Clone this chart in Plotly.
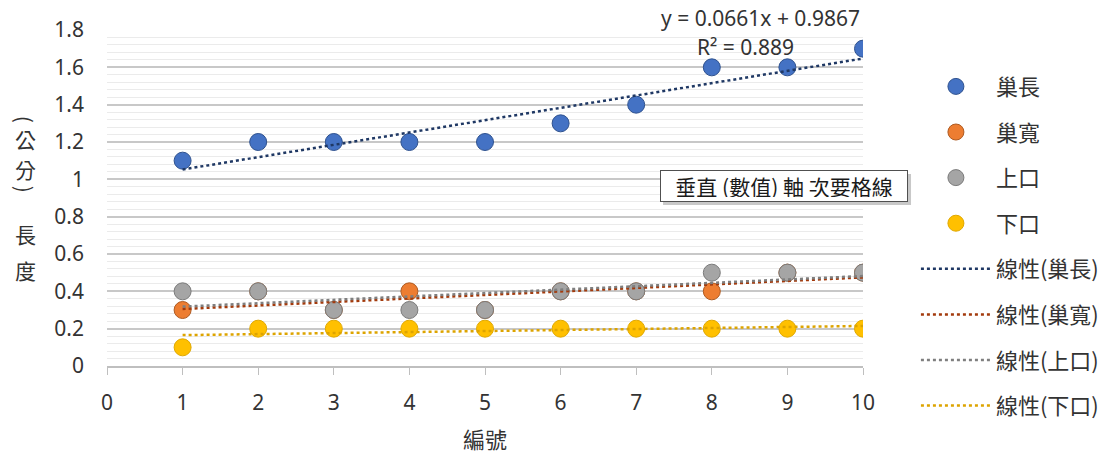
import numpy as np
import plotly.graph_objects as go

# 編號
ids = list(range(1, 11))

# 各項量測 (公分)
nest_length = [1.1, 1.2, 1.2, 1.2, 1.2, 1.3, 1.4, 1.6, 1.6, 1.7]
nest_width = [0.3, 0.4, 0.3, 0.4, 0.3, 0.4, 0.4, 0.4, 0.5, 0.5]
upper_mouth = [0.4, 0.4, 0.3, 0.3, 0.3, 0.4, 0.4, 0.5, 0.5, 0.5]
lower_mouth = [0.1, 0.2, 0.2, 0.2, 0.2, 0.2, 0.2, 0.2, 0.2, 0.2]

series = [
    ("巢長", nest_length, "#4472C4", "#2F528F", "#1F3864"),
    ("巢寬", nest_width, "#ED7D31", "#AE5A21", "#A33A0C"),
    ("上口", upper_mouth, "#A5A5A5", "#7B7B7B", "#7F7F7F"),
    ("下口", lower_mouth, "#FFC000", "#E0A800", "#DDA400"),
]

FONT = "Noto Sans, Noto Sans CJK TC, sans-serif"
CJK = "Noto Sans CJK TC, sans-serif"
TXT = "#333333"

fig = go.Figure()
x = np.array(ids, dtype=float)

fits = []
for name, vals, fill, edge, trend in series:
    fig.add_trace(go.Scatter(
        x=ids, y=vals, mode="markers", name=name, legendgroup=name,
        marker=dict(size=17, color=fill, line=dict(color=edge, width=1)),
    ))

for name, vals, fill, edge, trend in series:
    slope, intercept = np.polyfit(x, np.array(vals), 1)
    fits.append((slope, intercept))
    xs = np.array([ids[0], ids[-1]], dtype=float)
    fig.add_trace(go.Scatter(
        x=xs, y=slope * xs + intercept, mode="lines",
        name=f"線性({name})", legendgroup="t" + name,
        line=dict(color=trend, width=2.5, dash="dot"),
    ))

# 巢長 趨勢線方程式與 R²
y_len = np.array(nest_length)
s0, b0 = fits[0]
pred = s0 * x + b0
r2 = 1 - np.sum((y_len - pred) ** 2) / np.sum((y_len - y_len.mean()) ** 2)
r2_txt = f"{r2:.4f}".rstrip("0").rstrip(".")

fig.add_annotation(x=8.64, y=1.036, xref="x", yref="paper",
                   xanchor="center", yanchor="middle",
                   text=f"y = {s0:.4f}x + {b0:.4f}", showarrow=False,
                   font=dict(family=FONT, size=21, color=TXT))
fig.add_annotation(x=8.45, y=0.95, xref="x", yref="paper",
                   xanchor="center", yanchor="middle",
                   text=f"R² = {r2_txt}", showarrow=False,
                   font=dict(family=FONT, size=21, color=TXT))

# 提示框 (含陰影)
fig.add_shape(type="rect", xref="paper", yref="paper",
              x0=0.7355, x1=1.0635, y0=0.479, y1=0.5714,
              fillcolor="#9A9A9A", opacity=0.55, line=dict(width=0),
              layer="above")
fig.add_annotation(x=0.7315, y=0.5357, xref="paper", yref="paper",
                   xanchor="left", yanchor="middle",
                   width=238, height=22, align="center",
                   text="垂直 (數值) 軸 次要格線", showarrow=False,
                   font=dict(family=CJK, size=21, color="#1A1A1A"),
                   bgcolor="white", bordercolor="#505050", borderwidth=1,
                   borderpad=4)

# 縱軸標題 (直書：括號橫躺，漢字直立)
title_chars = [("(", 119, 90), ("公", 139, 0), ("分", 169, 0), (")", 189, 90),
               ("長", 234, 0), ("度", 270, 0)]
for ch, py, ang in title_chars:
    fig.add_annotation(x=-0.108, y=(366 - py) / 336, xref="paper", yref="paper",
                       xanchor="center", yanchor="middle",
                       text=ch, showarrow=False, textangle=ang,
                       font=dict(family=CJK, size=21, color=TXT))

fig.update_layout(
    width=1118, height=462,
    margin=dict(l=107, r=255, t=30, b=96),
    paper_bgcolor="white", plot_bgcolor="white",
    font=dict(family=FONT, size=18, color=TXT),
    showlegend=True,
    legend=dict(x=1.07, y=0.894, xanchor="left", yanchor="top",
                font=dict(family=CJK, size=22, color=TXT),
                tracegroupgap=14, itemwidth=70, maxheight=440,
                bgcolor="rgba(0,0,0,0)"),
    xaxis=dict(range=[0, 10], tickmode="linear", tick0=0, dtick=1,
               showgrid=False, zeroline=False,
               showline=True, linecolor="#BFBFBF", linewidth=1.5,
               ticks="outside", ticklen=7, tickcolor="#BFBFBF",
               ticklabelstandoff=10,
               tickfont=dict(family=FONT, size=21, color=TXT),
               title=dict(text="編號", font=dict(family=CJK, size=22, color=TXT),
                          standoff=18)),
    yaxis=dict(range=[0, 1.8], tickmode="linear", tick0=0, dtick=0.2,
               tickformat="~g",
               showgrid=True, gridcolor="#C8C8C8", gridwidth=1.5,
               zeroline=False, showline=False, ticks="",
               ticklabelstandoff=22,
               minor=dict(dtick=0.04, showgrid=True, gridcolor="#EBEBEB",
                          gridwidth=1.2),
               tickfont=dict(family=FONT, size=21, color=TXT)),
)

fig.write_html("out.html")
